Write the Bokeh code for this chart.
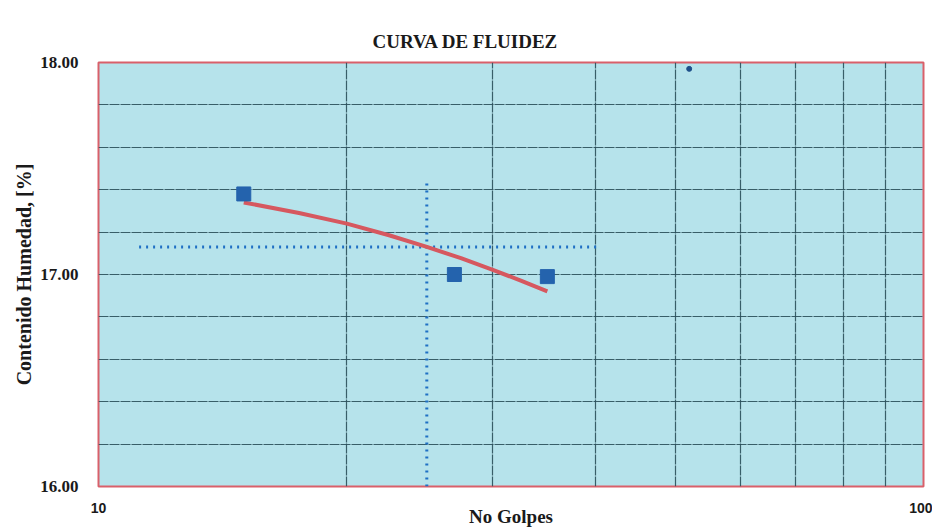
from bokeh.plotting import figure
from bokeh.models import Range1d, FixedTicker, NumeralTickFormatter, Grid
from bokeh.embed import file_html
from bokeh.resources import INLINE

# --- data ---
golpes = [15, 27, 35]
humedad = [17.38, 17.00, 16.99]

# fitted flow curve
curve_x = [15, 17.5, 20, 22.5, 25, 27.5, 30, 32.5, 35]
curve_y = [17.34, 17.29, 17.24, 17.185, 17.13, 17.077, 17.023, 16.971, 16.92]

ll_golpes = 25
ll_humedad = 17.13
hline_x = [11.2, 40.5]
vline_y = [16.0, 17.44]

stray_x = [52]
stray_y = [17.97]

x_ticks = [10, 100]
y_ticks = [16, 17, 18]
x_grid = [20, 30, 40, 50, 60, 70, 80, 90]
y_grid = [16.2, 16.4, 16.6, 16.8, 17.0, 17.2, 17.4, 17.6, 17.8]

SERIF = "Liberation Serif"
SANS = "Liberation Sans"

p = figure(width=932, height=529, x_axis_type="log",
           x_range=Range1d(10, 100), y_range=Range1d(16, 18),
           output_backend="svg", toolbar_location=None,
           title="CURVA DE FLUIDEZ",
           min_border_left=98, min_border_right=9, min_border_top=62, min_border_bottom=41)

p.background_fill_color = "#b6e3eb"
p.border_fill_color = "white"
p.outline_line_color = "#d9606a"
p.outline_line_width = 2

p.title.align = "left"
p.title.offset = 274
p.title.standoff = 21
p.title.text_font = SERIF
p.title.text_font_style = "bold"
p.title.text_font_size = "19px"
p.title.text_color = "#1a1a1a"

# remove default grids, add custom ones
p.xgrid.visible = False
p.ygrid.visible = False
gx = Grid(dimension=0, ticker=FixedTicker(ticks=x_grid), grid_line_color="#2a4f5a",
          grid_line_width=1.2, grid_line_alpha=0.9, grid_line_dash="10 1")
gy = Grid(dimension=1, ticker=FixedTicker(ticks=y_grid), grid_line_color="#2a4f5a",
          grid_line_width=1.2, grid_line_alpha=0.9, grid_line_dash="10 1")
p.add_layout(gx, "center")
p.add_layout(gy, "center")

xa = p.xaxis[0]
xa.ticker = FixedTicker(ticks=x_ticks)
xa.formatter = NumeralTickFormatter(format="0")
xa.axis_label = "No Golpes"
xa.axis_label_text_font = SERIF
xa.axis_label_text_font_style = "bold"
xa.axis_label_text_font_size = "19px"
xa.axis_label_text_color = "#1a1a1a"
xa.axis_label_standoff = -10
xa.major_label_text_font = SANS
xa.major_label_text_font_style = "bold"
xa.major_label_text_font_size = "14px"
xa.major_label_text_color = "#1a1a1a"
xa.major_label_standoff = 10
xa.axis_line_color = None
xa.major_tick_line_color = None
xa.minor_tick_line_color = None

ya = p.yaxis[0]
ya.ticker = FixedTicker(ticks=y_ticks)
ya.formatter = NumeralTickFormatter(format="0.00")
ya.axis_label = "Contenido Humedad, [%]"
ya.axis_label_text_font = SERIF
ya.axis_label_text_font_style = "bold"
ya.axis_label_text_font_size = "20px"
ya.axis_label_text_color = "#1a1a1a"
ya.axis_label_standoff = 2
ya.major_label_text_font = SERIF
ya.major_label_text_font_style = "bold"
ya.major_label_text_font_size = "17px"
ya.major_label_text_color = "#1a1a1a"
ya.major_label_standoff = 14
ya.axis_line_color = None
ya.major_tick_line_color = None
ya.minor_tick_line_color = None

# dotted reference lines
p.line(hline_x, [ll_humedad, ll_humedad], line_color="#1f70c4", line_width=3,
       line_dash="2 5")
p.line([ll_golpes, ll_golpes], vline_y, line_color="#1f70c4", line_width=3,
       line_dash="2 5")

# fitted curve
p.line(curve_x, curve_y, line_color="#d6585f", line_width=4)

# data points
p.scatter(golpes, humedad, marker="square", size=14, fill_color="#2463ad",
          line_color="#2463ad")

p.scatter(stray_x, stray_y, marker="circle", size=5, fill_color="#1d4f8a",
          line_color="#1d4f8a")

open("out.html", "w").write(file_html(p, INLINE))
